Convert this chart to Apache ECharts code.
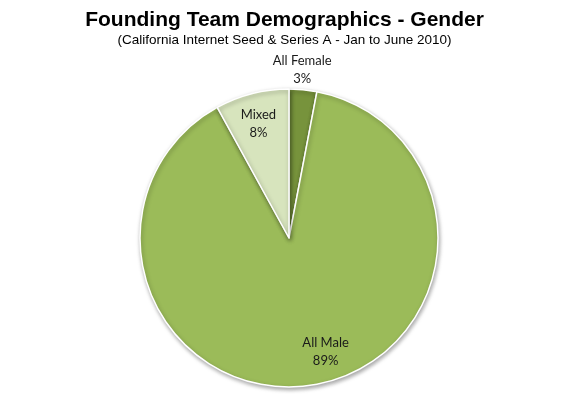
<!DOCTYPE html>
<html><head><meta charset="utf-8">
<script src="https://cdn.jsdelivr.net/npm/echarts@6/dist/echarts.min.js"></script>
<style>html,body{margin:0;padding:0;background:#fff}#c{width:569px;height:394px}</style>
</head><body><div id="c"></div>
<script>
const categories = ['All Female', 'All Male', 'Mixed'];
const values = [3, 89, 8];
const colors = ['#77933c', '#9bbb59', '#d7e4bd'];

const chart = echarts.init(document.getElementById('c'), null, {renderer: 'canvas'});
const pieData = categories.map((n, i) => ({name: n, value: values[i], itemStyle: {color: colors[i]}}));
const labelOffsets = [[2, -50], [18, -4], [-1, 1]];
const labelData = categories.map((n, i) => ({name: n, value: values[i], label: {offset: labelOffsets[i]}}));
chart.setOption({
  animation: false,
  title: {
    text: 'Founding Team Demographics - Gender',
    subtext: '(California Internet Seed & Series A - Jan to June 2010)',
    left: 'center', top: 5, itemGap: 2,
    textStyle: {fontFamily: 'Liberation Sans', fontWeight: 'bold', fontSize: 21, color: '#000'},
    subtextStyle: {fontFamily: 'Liberation Sans', fontSize: 13.5, color: '#000'}
  },
  series: [
    {
      type: 'pie', center: [289, 238], radius: 149, startAngle: 90, clockwise: true,
      silent: true, label: {show: false}, labelLine: {show: false},
      itemStyle: {borderColor: '#fff', borderWidth: 1.5, shadowBlur: 4, shadowColor: 'rgba(0,0,0,0.35)', shadowOffsetX: 1, shadowOffsetY: 2},
      data: pieData
    },
    {
      type: 'pie', center: [289, 238], radius: [83, 149], startAngle: 90, clockwise: true,
      silent: true, itemStyle: {color: 'rgba(0,0,0,0)'},
      label: {show: true, position: 'inside', formatter: '{b}\n{d}%', fontFamily: 'Lato', fontSize: 13, lineHeight: 18, color: '#1a1a1a'},
      labelLine: {show: false},
      data: labelData
    }
  ]
});
</script></body></html>
